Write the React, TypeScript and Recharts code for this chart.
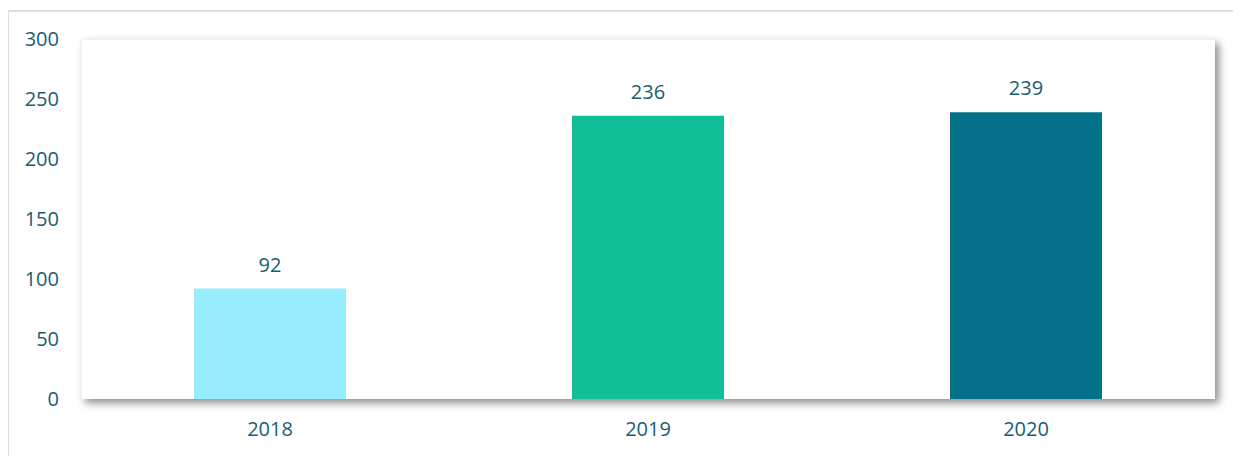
import React from "react";
import { BarChart, Bar, XAxis, YAxis, Cell, LabelList } from "recharts";

const years = ["2018", "2019", "2020"];
const values = [92, 236, 239];
const colors = ["#97edfe", "#10bf98", "#027189"];
const yTicks = [0, 50, 100, 150, 200, 250, 300];

const data = years.map((y, i) => ({ year: y, value: values[i] }));

const textColor = "#1a5d6f";
const font = "'Open Sans', 'Noto Sans', sans-serif";

export default function App() {
  return (
    <div style={{ position: "relative", width: 1233, height: 448, fontFamily: font }}>
      <div
        style={{
          position: "absolute",
          left: -1,
          top: 2,
          width: 1300,
          height: 500,
          border: "2px solid #dddddd",
          boxSizing: "border-box",
        }}
      />
      <div
        style={{
          position: "absolute",
          left: 73,
          top: 31,
          width: 1134,
          height: 360,
          background: "#fff",
          borderTop: "1px solid #f3f3f3",
          borderLeft: "1px solid #f3f3f3",
          boxSizing: "border-box",
          boxShadow: "4px 4px 8px rgba(0,0,0,0.45)",
        }}
      />
      <div style={{ position: "absolute", left: 0, top: 0 }}>
        <BarChart
          width={1225}
          height={440}
          data={data}
          margin={{ top: 31, right: 18, bottom: 0, left: 0 }}
        >
          <XAxis
            dataKey="year"
            axisLine={false}
            tickLine={false}
            tickSize={0}
            tickMargin={23}
            tick={{ fill: textColor, fontSize: 20, fontFamily: font }}
            height={49}
          />
          <YAxis
            domain={[0, 300]}
            ticks={yTicks}
            axisLine={false}
            tickLine={false}
            tickSize={0}
            tickMargin={22}
            width={73}
            interval={0}
            tick={{ fill: textColor, fontSize: 20, fontFamily: font }}
          />
          <Bar dataKey="value" barSize={152} isAnimationActive={false}>
            {data.map((d, i) => (
              <Cell key={d.year} fill={colors[i]} />
            ))}
            <LabelList
              dataKey="value"
              position="top"
              offset={17}
              fill={textColor}
              fontSize={20}
              fontFamily={font}
            />
          </Bar>
        </BarChart>
      </div>
    </div>
  );
}
